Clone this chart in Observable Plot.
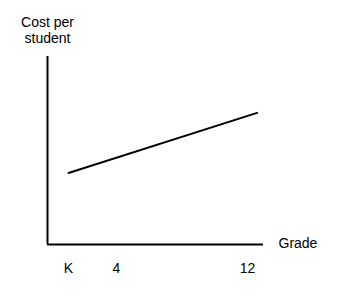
<!DOCTYPE html>
<html>
<head>
<meta charset="utf-8">
<script src="https://cdn.jsdelivr.net/npm/d3@7"></script>
<script src="https://cdn.jsdelivr.net/npm/@observablehq/plot@0.6"></script>
<style>
  html, body { margin: 0; padding: 0; background: #fff; }
  #chart svg { display: block; }
</style>
</head>
<body>
<div id="chart"></div>
<script>
// Data
const gradeTickValues = [0, 4, 12];
const gradeTickLabels = ["K", "4", "12"];
const lineGrade = [0, 12.6];
const lineCost = [38, 70];
const xTitle = "Grade";
const yTitle = "Cost per\nstudent";

const rows = lineGrade.map((g, i) => ({grade: g, cost: lineCost[i]}));

const xDomain = [-1.75, 0, 4, 12, 13];
const xRange = [47, 68, 116, 247, 263];

const chart = Plot.plot({
  width: 354,
  height: 301,
  marginTop: 56,
  marginBottom: 57,
  marginLeft: 47,
  marginRight: 91,
  style: {fontFamily: "'Liberation Sans', Arial, Helvetica, sans-serif", fontSize: "14px", color: "#000", background: "#fff"},
  x: {type: "linear", domain: xDomain, range: xRange},
  y: {domain: [0, 100], axis: null},
  marks: [
    Plot.axisX({ticks: gradeTickValues, tickFormat: (d) => gradeTickLabels[gradeTickValues.indexOf(d)], tickSize: 0, tickPadding: 19, fontSize: 14, label: null}),
    Plot.ruleX([xDomain[0]], {stroke: "#000", strokeWidth: 2}),
    Plot.ruleY([0], {stroke: "#000", strokeWidth: 2}),
    Plot.line(rows, {x: "grade", y: "cost", stroke: "#000", strokeWidth: 2}),
    Plot.text([xTitle], {frameAnchor: "bottom-right", text: (d) => d, textAnchor: "start", dx: 15, dy: 3, fontSize: 14}),
    Plot.text([yTitle], {frameAnchor: "top-left", text: (d) => d, textAnchor: "middle", lineAnchor: "top", lineHeight: 1.1, dx: 0, dy: -40, fontSize: 14})
  ]
});
document.getElementById("chart").appendChild(chart);
</script>
</body>
</html>
